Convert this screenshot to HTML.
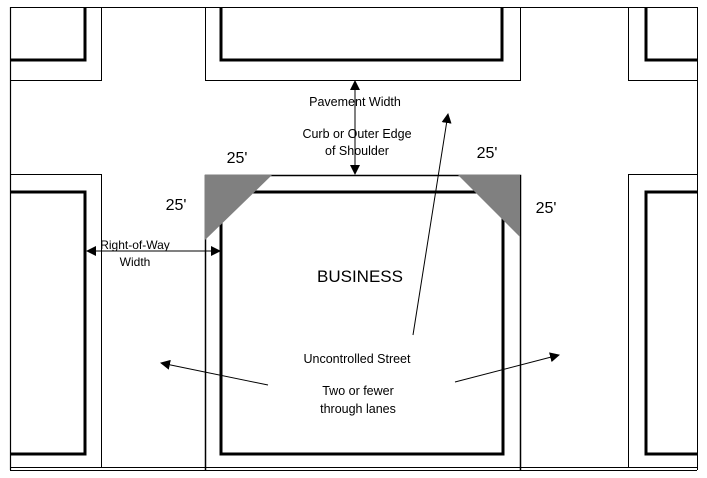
<!DOCTYPE html>
<html><head><meta charset="utf-8"><style>
html,body{margin:0;padding:0;background:#fff;}
svg{display:block;font-family:"Liberation Sans",Arial,sans-serif;}
</style></head><body>
<svg width="707" height="478" viewBox="0 0 707 478" xmlns="http://www.w3.org/2000/svg">
<defs>
<marker id="a" markerWidth="10" markerHeight="10" refX="9" refY="5" orient="auto" markerUnits="userSpaceOnUse">
<path d="M0,0 L10,5 L0,10 z" fill="#000"/></marker>
</defs>
<rect x="0" y="0" width="707" height="478" fill="#fff"/>
<g fill="none" stroke="#000">
<!-- outer frame -->
<line x1="10.5" y1="7" x2="10.5" y2="470" stroke-width="1.2"/>
<line x1="10" y1="7.5" x2="697" y2="7.5" stroke-width="1"/>
<line x1="697.5" y1="7" x2="697.5" y2="470" stroke-width="1"/>
<line x1="10" y1="467.5" x2="697" y2="467.5" stroke-width="1"/>
<line x1="10" y1="470.5" x2="697" y2="470.5" stroke-width="1"/>
<!-- top left -->
<polyline points="10,80.5 101.5,80.5 101.5,7" stroke-width="1"/>
<polyline points="10,60 85,60 85,7" stroke-width="3"/>
<!-- top center -->
<polyline points="205.5,7 205.5,80.5 520.5,80.5 520.5,7" stroke-width="1"/>
<polyline points="221,7 221,60 502,60 502,7" stroke-width="3"/>
<!-- top right -->
<polyline points="697,80.5 628.5,80.5 628.5,7" stroke-width="1"/>
<polyline points="697,60 646,60 646,7" stroke-width="3"/>
<!-- mid left -->
<polyline points="10,174.5 101.5,174.5 101.5,467" stroke-width="1"/>
<polyline points="10,192 85,192 85,454 10,454" stroke-width="3"/>
<!-- mid right -->
<polyline points="697,174.5 628.5,174.5 628.5,467" stroke-width="1"/>
<polyline points="697,192 646,192 646,454 697,454" stroke-width="3"/>
<!-- center block -->
<polyline points="205.5,470 205.5,175.5 520.5,175.5 520.5,470" stroke-width="1.5"/>
<rect x="221" y="192" width="282" height="262" stroke-width="3"/>
</g>
<polygon points="205,175 272,175 205,240" fill="#808080"/>
<polygon points="458,175 520,175 520,237" fill="#808080"/>
<g stroke="#000" stroke-width="1" fill="none">
<line x1="355" y1="120" x2="355" y2="81" marker-end="url(#a)"/>
<line x1="355" y1="120" x2="355" y2="174" marker-end="url(#a)"/>
<line x1="150" y1="251" x2="87" y2="251" marker-end="url(#a)"/>
<line x1="150" y1="251" x2="220" y2="251" marker-end="url(#a)"/>
<line x1="413" y1="335" x2="448" y2="114" marker-end="url(#a)"/>
<line x1="268" y1="385" x2="161" y2="363" marker-end="url(#a)"/>
<line x1="455" y1="382" x2="559" y2="355" marker-end="url(#a)"/>
</g>
<g fill="#000" text-anchor="middle">
<text x="355" y="106" font-size="12.5">Pavement Width</text>
<text x="357" y="138" font-size="12.5">Curb or Outer Edge</text>
<text x="357" y="155" font-size="12.5">of Shoulder</text>
<text x="237" y="163" font-size="16">25'</text>
<text x="487" y="158" font-size="16">25'</text>
<text x="176" y="210" font-size="16">25'</text>
<text x="546" y="213" font-size="16">25'</text>
<text x="135" y="249" font-size="12">Right-of-Way</text>
<text x="135" y="266" font-size="12">Width</text>
<text x="360" y="282" font-size="17">BUSINESS</text>
<text x="357" y="363" font-size="12.5">Uncontrolled Street</text>
<text x="358" y="395" font-size="12.5">Two or fewer</text>
<text x="358" y="413" font-size="12.5">through lanes</text>
</g>
</svg>
</body></html>
